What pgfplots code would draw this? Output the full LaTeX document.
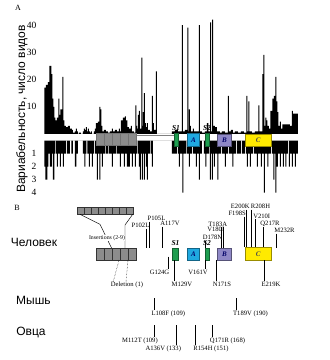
\documentclass[border=0pt]{standalone}
\usepackage{fontspec}
\setmainfont{Liberation Serif}
\newfontfamily\cyrsans{Liberation Sans}
\usepackage{pgfplots}
\pgfplotsset{compat=1.18}
\definecolor{sgreen}{HTML}{1E9E50}
\definecolor{acyan}{HTML}{1FA8E0}
\definecolor{bpurple}{HTML}{8F88C6}
\definecolor{cyellow}{HTML}{FFEA00}
\definecolor{boxgray}{HTML}{8C8C8C}
\newcommand{\dombox}[6]{\addplot[fill=#5, draw=#6, line width=0.4pt, mark=none] coordinates {(#1,#2) (#3,#2) (#3,#4) (#1,#4)} -- cycle;}
\newcommand{\seg}[4]{\addplot[black, line width=0.45pt, mark=none] coordinates {(#1,#2) (#3,#4)};}
\newcommand{\lab}{\fontsize{6.6}{7}\selectfont}
\begin{document}
\begin{tikzpicture}
% ---------- Panel A: upper bars (number of species) ----------
\begin{axis}[at={(40pt,226pt)}, anchor=south west, scale only axis,
  width=260pt, height=130.8pt, xmin=40, xmax=300, ymin=0, ymax=48,
  axis line style={draw=none}, xtick=\empty, ytick={10,20,30,40},
  major tick length=0pt, yticklabel style={font=\fontsize{9.5}{10}\selectfont},
  /pgf/number format/assume math mode=true, clip=false]
\addplot[const plot, fill=black, draw=none, mark=none] coordinates {
(44.5,17) (46,18) (48,19) (49.5,25) (51.5,22) (52.5,13) (53.5,10) (54.5,6) (55.5,5) (57,6) (58.5,13) (59.5,7) (60.5,9) (62.5,21) (63.5,5) (64.5,3) (66,2.5) (68,3) (70,2) (72,1.5) (73,0.5) (75,1) (76,2) (77,1) (78,0) (79,0.5) (81,0) (83,1) (84,2) (85,1.5) (86,2.5) (87,1) (88,2) (89,1) (90,0.5) (91,1) (92,0) (94,1) (95,2) (96,4) (98,4.5) (99.5,10) (100.5,9) (101.5,3) (102.5,1) (104,1.5) (106,1) (108,0.5) (110,1) (112,2) (113,1) (115,1.5) (117,1) (119,2) (120,1) (121,5) (123,6) (125,6.5) (126,5) (127.5,2.5) (129,2) (131,3) (132,1) (134,0.5) (135.5,10.5) (136.5,3) (137.2,2) (138,7) (139,8.5) (140,2) (141.3,28) (142.5,3) (143,8) (144,15) (145,4) (146,2.5) (147,4) (148,1.5) (150,1) (152,14) (153,4) (154,1.5) (156,23) (157,0) (172,1) (175,1.5) (178,1) (182,40) (183,1) (185,1.5) (187.3,39) (188.3,1) (189,9) (190,3) (191,1) (193,2) (194,1) (198.8,40) (199.8,1) (202,0.5) (205,1) (207,4) (208.5,1) (210.2,41) (211.2,1) (212.2,42) (213.2,3) (215,2.5) (217,1) (220,0.5) (222,1) (225,0.5) (227.8,14) (228.8,1) (231,1.5) (233,0.5) (235,1) (238,0.5) (241,1) (244,0.5) (246.3,14) (247.3,1) (248.5,12) (249.5,1) (252,0.5) (255,1) (258.5,10.5) (259.5,1) (262.5,22) (263.5,29) (264.5,3) (265.5,6) (266.5,5) (267.5,3) (269,2) (270.5,8.5) (272.5,13) (274,14) (275.5,21) (276.5,12) (277.5,8) (278.5,3) (280,4.5) (281,2) (282.5,3.5) (290,3) (292,8.5) (293,7.5) (298,7.5)
} \closedcycle;
\end{axis}
% ---------- Panel A: lower bars ----------
\begin{axis}[at={(40pt,219.5pt)}, anchor=north west, scale only axis,
  width=260pt, height=55.9pt, xmin=40, xmax=300, ymin=0, ymax=4.3, y dir=reverse,
  axis line style={draw=none}, xtick=\empty, ytick={1,2,3,4},
  major tick length=0pt, yticklabel style={font=\fontsize{9.5}{10}\selectfont},
  /pgf/number format/assume math mode=true, clip=false]
\addplot[const plot, fill=black, draw=none, mark=none] coordinates {
(44.5,2) (45.5,3) (47.5,2) (48.5,1) (50,2) (52,1) (53,3) (54.5,1) (55.5,0) (56.2,1) (57,2) (58,1) (60,2) (61,1) (63,2) (64,1) (66,0) (67,1) (70,0) (71.5,1) (73,0) (75,2) (76.5,1) (78,0) (83,1) (84.5,2) (85.5,1) (86.5,0) (87.5,1) (89,2) (90,1) (92,2) (93,1) (94,0) (95,1) (97,3) (98,1) (99.5,3) (100.5,1) (102,2) (103,1) (105,0) (105.7,1) (108,0) (108.7,1) (112,2) (113,1) (116,0) (116.7,1) (120,2) (121,1) (124,2) (125,1) (127,2) (130,1) (132,2) (133,1) (135,2) (136,1) (137,0) (137.7,1) (139,2) (140,3) (141,1) (142,3) (143,1) (144,3) (145,1) (146,2) (147,3) (148,1) (150,0) (150.7,1) (152,2) (153,0) (172,1) (177,0) (178,1) (179,2) (180,1) (182.5,4) (183.5,1) (186,0) (186.7,1) (189,2) (190,1) (192,0) (193,1) (196,2) (197,1) (199,3) (200,1) (202,0) (204,1) (205.5,2) (206.5,1) (209,0) (209.7,1) (210,3) (211,1) (212,3) (213,1) (214,2) (215,1) (217.5,3) (218.5,1) (221,0) (222,1) (225,2) (226,1) (228,0) (229,1) (232.5,2) (233.5,1) (236,0) (237,1) (241,0) (242,1) (245,0) (246,1) (247,2) (248,1) (250,2) (251,1) (253,0) (254,1) (257,2) (258,1) (261,2) (262,1) (264,4) (265,1) (267.5,2) (268.5,1) (271,0) (272,1) (273.5,3) (274.5,1) (275.5,4) (276.5,2) (278,1) (280,2) (281,1) (283,2) (284,1) (285.5,2) (286.5,1) (288,0) (289,2) (290,1) (292,2) (293,1) (295,2) (296,1) (298,1)
} \closedcycle;
\end{axis}
% ---------- Overlay (pixel units, y downward) ----------
\begin{axis}[at={(0pt,0pt)}, anchor=south west, scale only axis,
  width=330pt, height=360pt, xmin=0, xmax=330, ymin=0, ymax=360, y dir=reverse,
  hide axis, clip=false]
\addplot[draw=none, mark=none] coordinates {(0,0) (330,360)};
\node[font=\fontsize{8}{8}\selectfont] at (18,7.5) {A};
\node[rotate=90, font=\cyrsans\fontsize{12}{12}\selectfont] at (22,109) {Вариабельность, число видов};
% baseline
\addplot[gray, line width=0.5pt, mark=none] coordinates {(136,135.5) (174,135.5)};
% octarepeats
\dombox{96.7}{133}{104.56}{145.5}{boxgray}{black!55}
\dombox{104.56}{133}{112.42}{145.5}{boxgray}{black!55}
\dombox{112.42}{133}{120.28}{145.5}{boxgray}{black!55}
\dombox{120.28}{133}{128.14}{145.5}{boxgray}{black!55}
\dombox{128.14}{133}{136}{145.5}{boxgray}{black!55}
\dombox{174}{132.7}{178.3}{145.7}{sgreen}{sgreen!60!black}
\dombox{187.7}{133.3}{199.3}{146}{acyan}{acyan!60!black}
\dombox{205}{132.7}{209.3}{145.7}{sgreen}{sgreen!60!black}
\dombox{217.3}{134.3}{231.7}{145.7}{bpurple}{bpurple!60!black}
\dombox{245.7}{134}{271}{146}{cyellow}{cyellow!60!black}
\node[font=\fontsize{7.5}{8}\selectfont\itshape\bfseries] at (176,128) {S1};
\node[font=\fontsize{7.5}{8}\selectfont\itshape\bfseries] at (207,128) {S2};
\node[font=\fontsize{7}{8}\selectfont\itshape\bfseries, text=blue!40!black] at (193.5,140) {A};
\node[font=\fontsize{7}{8}\selectfont\itshape\bfseries, text=blue!40!black] at (224.5,140) {B};
\node[font=\fontsize{7}{8}\selectfont\itshape\bfseries, text=black!70] at (258.3,140) {C};
% ---------- Panel B ----------
\node[font=\fontsize{8}{8}\selectfont] at (17,208) {B};
\node[font=\cyrsans\fontsize{12}{12}\selectfont] at (34,242) {Человек};
\node[font=\cyrsans\fontsize{12}{12}\selectfont] at (33.5,300) {Мышь};
\node[font=\cyrsans\fontsize{12}{12}\selectfont] at (31,333) {Овца};
% insertion box (top)
\dombox{77.7}{206.7}{84.65}{214.3}{boxgray}{black!80}
\dombox{84.65}{206.7}{91.6}{214.3}{boxgray}{black!80}
\dombox{91.6}{206.7}{98.55}{214.3}{boxgray}{black!80}
\dombox{98.55}{206.7}{105.5}{214.3}{boxgray}{black!80}
\dombox{105.5}{206.7}{112.45}{214.3}{boxgray}{black!80}
\dombox{112.45}{206.7}{119.4}{214.3}{boxgray}{black!80}
\dombox{119.4}{206.7}{126.35}{214.3}{boxgray}{black!80}
\dombox{126.35}{206.7}{133.3}{214.3}{boxgray}{black!80}
\addplot[black, line width=0.45pt, mark=none] coordinates {(80,214.3) (100,224.3) (111.7,248.3)};
\addplot[black, line width=0.45pt, mark=none] coordinates {(132.7,214.3) (125,225) (125,248.3)};
\node[font=\fontsize{5.8}{6}\selectfont, fill=white, inner sep=0.3pt] at (107,237.7) {Insertions (2-9)};
% octarepeat box (human)
\dombox{96.7}{248.3}{104.7}{260}{boxgray}{black!80}
\dombox{104.7}{248.3}{112.7}{260}{boxgray}{black!80}
\dombox{112.7}{248.3}{120.7}{260}{boxgray}{black!80}
\dombox{120.7}{248.3}{128.7}{260}{boxgray}{black!80}
\dombox{128.7}{248.3}{136.7}{260}{boxgray}{black!80}
\addplot[black, densely dotted, line width=0.45pt, mark=none] coordinates {(119,260) (113.3,281.5)};
\addplot[black, densely dotted, line width=0.45pt, mark=none] coordinates {(128,260) (126,281.5)};
\node[font=\lab] at (127,284.5) {Deletion (1)};
% human domains
\dombox{172.7}{247.7}{178.3}{260}{sgreen}{sgreen!60!black}
\dombox{187.7}{247.7}{199.3}{260}{acyan}{acyan!60!black}
\dombox{205}{247.7}{209.3}{260}{sgreen}{sgreen!60!black}
\dombox{217.3}{247.7}{231.7}{260}{bpurple}{bpurple!60!black}
\dombox{245}{247.3}{271.7}{260}{cyellow}{cyellow!60!black}
\node[font=\fontsize{7.5}{8}\selectfont\itshape\bfseries] at (175.5,243.5) {S1};
\node[font=\fontsize{7.5}{8}\selectfont\itshape\bfseries] at (207,243.5) {S2};
\node[font=\fontsize{7}{8}\selectfont\itshape\bfseries, text=blue!40!black] at (193.5,254) {A};
\node[font=\fontsize{7}{8}\selectfont\itshape\bfseries, text=blue!40!black] at (224.5,254) {B};
\node[font=\fontsize{7}{8}\selectfont\itshape\bfseries, text=black!70] at (258.3,254) {C};
% human mutations above
\seg{146.7}{228.5}{146.7}{248.3}
\seg{149}{221.5}{149}{248.3}
\seg{162.3}{226.5}{162.3}{248.3}
\node[font=\lab] at (140.5,225) {P102L};
\node[font=\lab] at (156.5,218.3) {P105L};
\node[font=\lab] at (170,223) {A117V};
\seg{205.5}{240.5}{205.5}{247.7}
\node[font=\lab] at (212.5,237.5) {D178N};
\seg{221.7}{226.5}{221.7}{247.7}
\seg{223.3}{226.5}{223.3}{247.7}
\node[font=\lab] at (217.8,224) {T183A};
\node[font=\lab] at (215.8,229.3) {V180I};
\seg{244.3}{216.5}{244.3}{247.3}
\seg{246.7}{209.5}{246.7}{247.3}
\seg{251.7}{209.5}{251.7}{247.3}
\seg{255}{219}{255}{247.3}
\seg{263.3}{226.5}{263.3}{247.3}
\seg{276.7}{233.5}{276.7}{248}
\node[font=\lab] at (240.3,206.5) {E200K};
\node[font=\lab] at (237.2,213.8) {F198S};
\node[font=\lab] at (260.5,206.5) {R208H};
\node[font=\lab] at (261.7,216.7) {V210I};
\node[font=\lab] at (270,224) {Q217R};
\node[font=\lab] at (284.5,230.7) {M232R};
% human mutations below
\seg{168.3}{256.7}{168.3}{268.8}
\node[font=\lab] at (159.5,272.3) {G124G};
\seg{174.3}{260}{174.3}{280.5}
\node[font=\lab] at (182,284.5) {M129V};
\seg{205}{260}{205}{268.8}
\node[font=\lab] at (198,272.3) {V161V};
\seg{216}{260}{216}{280.5}
\node[font=\lab] at (222,284.5) {N171S};
\seg{264.3}{260}{264.3}{280.5}
\node[font=\lab] at (271,284.5) {E219K};
% mouse
\seg{154}{298}{154}{309.5}
\node[font=\lab] at (168.3,314.3) {L108F (109)};
\seg{236}{298}{236}{309.5}
\node[font=\lab] at (250.5,314.3) {T189V (190)};
% sheep
\seg{154}{325}{154}{336.5}
\node[font=\lab] at (140,340.7) {M112T (109)};
\seg{176.7}{325}{176.7}{345}
\node[font=\lab] at (163.3,349.3) {A136V (133)};
\seg{195.7}{325}{195.7}{345}
\node[font=\lab] at (211,349.3) {R154H (151)};
\seg{212.7}{325}{212.7}{336.5}
\node[font=\lab] at (227.5,340.7) {Q171R (168)};
\end{axis}
\end{tikzpicture}
\end{document}
